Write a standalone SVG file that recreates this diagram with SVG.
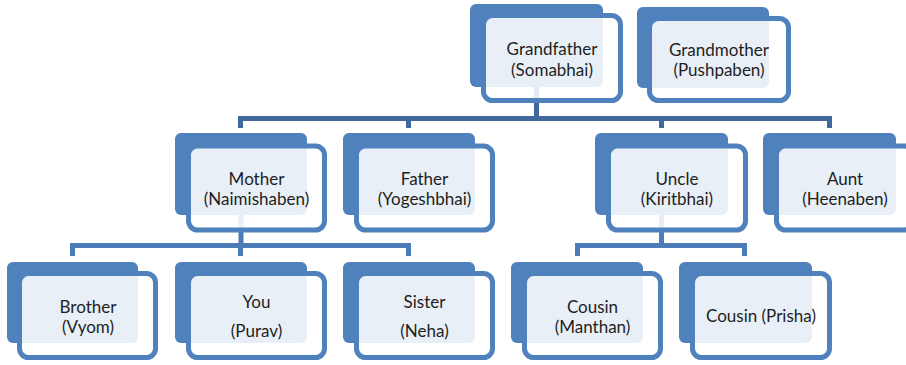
<svg xmlns="http://www.w3.org/2000/svg" width="906" height="365" viewBox="0 0 906 365">
<style>
.back{fill:#4F81BD}
.front{fill:#FFFFFF;fill-opacity:0.87;stroke:#4F81BD;stroke-width:5}
.lbl{font-family:Lato,"Liberation Sans",sans-serif;font-size:17px;fill:#1E1E1E;text-anchor:middle}
.c1{fill:none;stroke:#41689D;stroke-width:5}
.c2{fill:none;stroke:#4B7CB8;stroke-width:5}
</style>
<rect width="906" height="365" fill="#FFFFFF"/>
<g id="connectors">
<path class="c1" d="M536.5 86 V118.5"/>
<path class="c1" d="M240.5 128 V118.5 H829.5 V128 M408.5 118.5 V128 M661.5 118.5 V128"/>
<path class="c2" d="M241 215 V245.5"/>
<path class="c2" d="M72.5 256 V245.5 H408.5 V256 M240.5 245.5 V256"/>
<path class="c2" d="M661.5 215 V245.5"/>
<path class="c2" d="M577.5 256 V245.5 H744.5 V256"/>
</g>
<g id="grandfather">
<rect class="back" x="470" y="4" width="133" height="83" rx="6"/>
<rect class="front" x="483.5" y="15.5" width="137" height="85" rx="9"/>
<text class="lbl" x="552" y="55">Grandfather</text>
<text class="lbl" x="552" y="75.5">(Somabhai)</text>
</g>
<g id="grandmother">
<rect class="back" x="637" y="7" width="132" height="81" rx="6"/>
<rect class="front" x="649.5" y="18.5" width="139" height="82" rx="9"/>
<text class="lbl" x="719" y="56">Grandmother</text>
<text class="lbl" x="719" y="76">(Pushpaben)</text>
</g>
<g id="mother">
<rect class="back" x="175" y="133" width="132" height="82" rx="6"/>
<rect class="front" x="188.5" y="146" width="136" height="84" rx="9"/>
<text class="lbl" x="256.5" y="185">Mother</text>
<text class="lbl" x="256.5" y="205">(Naimishaben)</text>
</g>
<g id="father">
<rect class="back" x="343" y="133" width="132" height="82" rx="6"/>
<rect class="front" x="356.5" y="146" width="136" height="84" rx="9"/>
<text class="lbl" x="424.5" y="185">Father</text>
<text class="lbl" x="424.5" y="205">(Yogeshbhai)</text>
</g>
<g id="uncle">
<rect class="back" x="595" y="133" width="133" height="82" rx="6"/>
<rect class="front" x="608.5" y="146" width="137" height="84" rx="9"/>
<text class="lbl" x="677" y="185">Uncle</text>
<text class="lbl" x="677" y="205">(Kiritbhai)</text>
</g>
<g id="aunt">
<rect class="back" x="763" y="133" width="133" height="82" rx="6"/>
<rect class="front" x="776.5" y="146" width="137" height="84" rx="9"/>
<text class="lbl" x="845" y="185">Aunt</text>
<text class="lbl" x="845" y="205">(Heenaben)</text>
</g>
<g id="brother">
<rect class="back" x="7" y="262" width="131" height="81" rx="6"/>
<rect class="front" x="19.5" y="273.5" width="136" height="84" rx="9"/>
<text class="lbl" x="88" y="313">Brother</text>
<text class="lbl" x="88" y="333">(Vyom)</text>
</g>
<g id="you">
<rect class="back" x="175" y="262" width="132" height="81" rx="6"/>
<rect class="front" x="188.5" y="273.5" width="136" height="84" rx="9"/>
<text class="lbl" x="256.5" y="308">You</text>
<text class="lbl" x="256.5" y="337">(Purav)</text>
</g>
<g id="sister">
<rect class="back" x="343" y="262" width="132" height="81" rx="6"/>
<rect class="front" x="356.5" y="273.5" width="136" height="84" rx="9"/>
<text class="lbl" x="424.5" y="308">Sister</text>
<text class="lbl" x="424.5" y="337">(Neha)</text>
</g>
<g id="cousin-manthan">
<rect class="back" x="511" y="262" width="132" height="81" rx="6"/>
<rect class="front" x="524.5" y="273.5" width="136" height="84" rx="9"/>
<text class="lbl" x="592.5" y="313">Cousin</text>
<text class="lbl" x="592.5" y="333">(Manthan)</text>
</g>
<g id="cousin-prisha">
<rect class="back" x="679" y="262" width="133" height="81" rx="6"/>
<rect class="front" x="692.5" y="273.5" width="137" height="84" rx="9"/>
<text class="lbl" x="761" y="322">Cousin (Prisha)</text>
</g>
</svg>
